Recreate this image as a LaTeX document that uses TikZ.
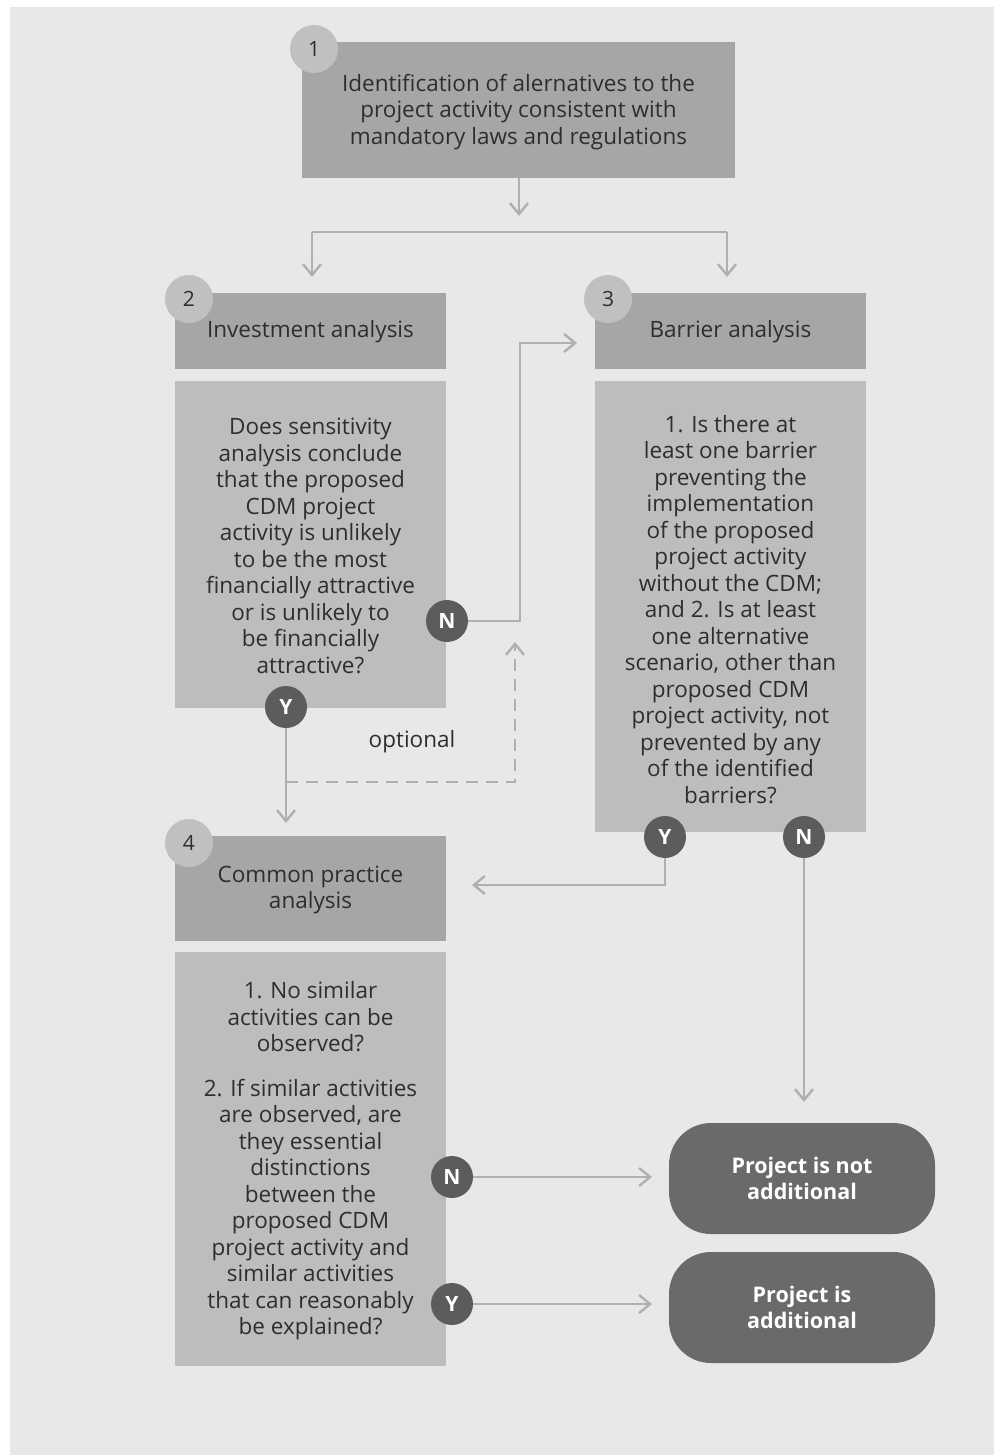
\documentclass[tikz,border=0pt]{standalone}
\usepackage{fontspec}
\setmainfont{Open Sans}
\usetikzlibrary{arrows.meta}
\definecolor{bgpanel}{HTML}{E8E8E8}
\definecolor{hdrfill}{HTML}{A6A6A6}
\definecolor{bodyfill}{HTML}{BDBDBD}
\definecolor{numfill}{HTML}{C0C0C0}
\definecolor{darkfill}{HTML}{5C5C5C}
\definecolor{endfill}{HTML}{6A6A6A}
\definecolor{linecol}{HTML}{B0B0B0}
\definecolor{txtcol}{HTML}{2E2E2E}
\tikzset{
  txt/.style={font=\fontsize{22.5}{26.5}\selectfont, text=txtcol, align=center},
  hdrbox/.style={rectangle, fill=hdrfill, inner sep=0pt},
  bodybox/.style={rectangle, fill=bodyfill, inner sep=0pt},
  numcirc/.style={circle, fill=numfill, minimum size=48pt, inner sep=0pt, font=\fontsize{21}{24}\selectfont, text=txtcol},
  yncirc/.style={circle, fill=darkfill, minimum size=42pt, inner sep=0pt, font=\fontsize{21}{24}\selectfont\bfseries, text=white},
  endbox/.style={rectangle, rounded corners=42pt, fill=endfill, minimum width=266pt, minimum height=111pt, inner sep=0pt, align=center, font=\fontsize{21.5}{26}\selectfont\bfseries, text=white},
  conn/.style={draw=linecol, line width=2.4pt, -{Straight Barb[length=11pt, width=18pt, line width=2.4pt]}},
  plainconn/.style={draw=linecol, line width=2.4pt},
  dashconn/.style={draw=linecol, line width=2.4pt, dash pattern=on 12pt off 8pt, -{Straight Barb[length=11pt, width=18pt, line width=2.4pt]}}
}
\begin{document}
\begin{tikzpicture}[x=1pt, y=-1pt]
\useasboundingbox (0,0) rectangle (994,1455);
\fill[white] (0,0) rectangle (994,1455);
\fill[bgpanel] (10,7) rectangle (994,1455);

% Box 1
\node[hdrbox, minimum width=433pt, minimum height=136pt] (b1) at (518.5,110) {};
\node[txt] (b1t) at (518.5,112) {Identification of alernatives to the\\project activity consistent with\\mandatory laws and regulations};
\node[numcirc] (n1) at (314,49) {1};

% Box 2
\node[hdrbox, minimum width=271pt, minimum height=76pt] (h2) at (310.5,331) {};
\node[txt] (h2t) at (310.5,332) {Investment analysis};
\node[numcirc] (n2) at (189,299) {2};
\node[bodybox, minimum width=271pt, minimum height=327pt] (q2) at (310.5,544.5) {};
\node[txt] (q2t) at (310.5,546) {Does sensitivity\\analysis conclude\\that the proposed\\CDM project\\activity is unlikely\\to be the most\\financially attractive\\or is unlikely to\\be financially\\attractive?};

% Box 3
\node[hdrbox, minimum width=271pt, minimum height=76pt] (h3) at (730.5,331) {};
\node[txt] (h3t) at (730.5,332) {Barrier analysis};
\node[numcirc] (n3) at (608,299) {3};
\node[bodybox, minimum width=271pt, minimum height=451pt] (q3) at (730.5,606.5) {};
\node[txt] (q3t) at (730.5,609.5) {1. Is there at\\least one barrier\\preventing the\\implementation\\of the proposed\\project activity\\without the CDM;\\and 2. Is at least\\one alternative\\scenario, other than\\proposed CDM\\project activity, not\\prevented by any\\of the identified\\barriers?};

% Box 4
\node[hdrbox, minimum width=271pt, minimum height=105pt] (h4) at (310.5,888.5) {};
\node[txt] (h4t) at (310.5,890) {Common practice\\analysis};
\node[numcirc] (n4) at (189,843) {4};
\node[bodybox, minimum width=271pt, minimum height=414pt] (q4) at (310.5,1159) {};
\node[txt] (q4t) at (310.5,1161) {1. No similar\\activities can be\\observed?\\[18pt]2. If similar activities\\are observed, are\\they essential\\distinctions\\between the\\proposed CDM\\project activity and\\similar activities\\that can reasonably\\be explained?};

% End boxes
\node[endbox] (notadd) at (802,1178.5) {Project is not\\additional};
\node[endbox] (isadd) at (802,1307.5) {Project is\\additional};

% Y/N circles
\node[yncirc] (n2N) at (447,621) {N};
\node[yncirc] (n2Y) at (286,707) {Y};
\node[yncirc] (n3Y) at (665,837) {Y};
\node[yncirc] (n3N) at (804,837) {N};
\node[yncirc] (n4N) at (452,1177) {N};
\node[yncirc] (n4Y) at (452,1304) {Y};

% optional label
\node[txt] (opt) at (412,742) {optional};

% helper coordinates
\coordinate (a1) at (519,216);
\coordinate (sl) at (312,277);
\coordinate (sr) at (727,277);
\coordinate (sj) at (519,232);
\coordinate (nk1) at (520,621);
\coordinate (nk2) at (520,343);
\coordinate (nend) at (577,343);
\coordinate (y2end) at (286,823);
\coordinate (d1) at (286,782);
\coordinate (d2) at (515,782);
\coordinate (dend) at (515,642);
\coordinate (y3k) at (665,885);
\coordinate (y3end) at (472,885);
\coordinate (n3end) at (804,1102);
\coordinate (n4end) at (652,1177);
\coordinate (y4end) at (652,1304);

% connectors
\draw[conn] (b1.south -| a1) -- (a1);
\draw[plainconn] (sl |- sj) -- (sr |- sj);
\draw[conn] (sl |- sj) -- (sl);
\draw[conn] (sr |- sj) -- (sr);
\draw[conn] (n2N.east) -- (nk1) -- (nk2) -- (nend);
\draw[conn] (n2Y.south) -- (y2end);
\draw[dashconn] (d1) -- (d2) -- (dend);
\draw[conn] (n3Y.south) -- (y3k) -- (y3end);
\draw[conn] (n3N.south) -- (n3end);
\draw[conn] (n4N.east) -- (n4end);
\draw[conn] (n4Y.east) -- (y4end);
\end{tikzpicture}
\end{document}
